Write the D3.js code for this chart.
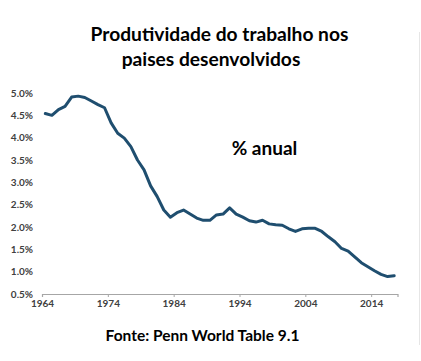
<!DOCTYPE html>
<html>
<head>
<meta charset="utf-8">
<script src="https://cdn.jsdelivr.net/npm/d3@7"></script>
<style>
  body { margin: 0; background: #ffffff; }
  svg { display: block; }
</style>
</head>
<body>
<div id="chart"></div>
<script>
// Chart data
const years = [1964, 1965, 1966, 1967, 1968, 1969, 1970, 1971, 1972, 1973,
    1974, 1975, 1976, 1977, 1978, 1979, 1980, 1981, 1982, 1983,
    1984, 1985, 1986, 1987, 1988, 1989, 1990, 1991, 1992, 1993,
    1994, 1995, 1996, 1997, 1998, 1999, 2000, 2001, 2002, 2003,
    2004, 2005, 2006, 2007, 2008, 2009, 2010, 2011, 2012, 2013,
    2014, 2015, 2016, 2017];
const growth = [4.54, 4.50, 4.63, 4.70, 4.91, 4.93, 4.90, 4.82, 4.74, 4.67,
    4.33, 4.10, 3.99, 3.80, 3.50, 3.28, 2.92, 2.68, 2.38, 2.22,
    2.32, 2.38, 2.29, 2.20, 2.15, 2.15, 2.27, 2.29, 2.43, 2.29,
    2.22, 2.14, 2.11, 2.15, 2.07, 2.05, 2.04, 1.96, 1.90, 1.96,
    1.97, 1.97, 1.90, 1.78, 1.67, 1.52, 1.46, 1.33, 1.20, 1.11,
    1.02, 0.94, 0.89, 0.91];
const xTicks = [1964, 1974, 1984, 1994, 2004, 2014];
const yTicks = [0.5, 1.0, 1.5, 2.0, 2.5, 3.0, 3.5, 4.0, 4.5, 5.0];

const titleLines = ["Produtividade do trabalho nos", "paises desenvolvidos"];
const unitLabel = "% anual";
const sourceLabel = "Fonte: Penn World Table 9.1";

const width = 421;
const height = 361;

const svg = d3.select("#chart").append("svg")
    .attr("width", width)
    .attr("height", height);

// Scales: points sit half a year after their tick
const x = d3.scaleLinear().domain([1964, 2018]).range([42, 397.5]);
const y = d3.scaleLinear().domain([0.5, 5.0]).range([294, 93]);

// x axis: gray baseline with small ticks below
const xAxis = d3.axisBottom(x)
    .tickValues(xTicks)
    .tickFormat(d3.format("d"))
    .tickSize(3)
    .tickPadding(3);

const gx = svg.append("g")
    .attr("transform", "translate(0," + y(0.5) + ")")
    .call(xAxis);
gx.select(".domain").attr("stroke", "#a6a6a6").attr("stroke-width", 1.2);
gx.selectAll(".tick line").attr("stroke", "#a6a6a6");
gx.selectAll(".tick text")
    .attr("fill", "#404040")
    .attr("font-family", "Lato, 'Open Sans', sans-serif")
    .attr("font-size", 10)
    .attr("font-weight", "bold");

// y axis: labels only
const yAxis = d3.axisLeft(y)
    .tickValues(yTicks)
    .tickFormat(function (d) { return d.toFixed(1) + "%"; })
    .tickSize(0)
    .tickPadding(0);

const gy = svg.append("g")
    .attr("transform", "translate(33,0)")
    .call(yAxis);
gy.select(".domain").remove();
gy.selectAll(".tick text")
    .attr("fill", "#404040")
    .attr("font-family", "Lato, 'Open Sans', sans-serif")
    .attr("font-size", 10)
    .attr("font-weight", "bold");

// The productivity line
const line = d3.line()
    .x(function (d, i) { return x(years[i] + 0.5); })
    .y(function (d) { return y(d); });

svg.append("path")
    .datum(growth)
    .attr("fill", "none")
    .attr("stroke", "#1f4e6f")
    .attr("stroke-width", 3)
    .attr("stroke-linejoin", "round")
    .attr("stroke-linecap", "round")
    .attr("d", line);

// Titles and notes
const textFont = "Lato, 'Open Sans', sans-serif";

svg.append("text")
    .attr("x", 219.5).attr("y", 41)
    .attr("text-anchor", "middle")
    .attr("font-family", textFont)
    .attr("font-weight", "bold")
    .attr("font-size", 19.2)
    .attr("fill", "#000")
    .text(titleLines[0]);

svg.append("text")
    .attr("x", 211).attr("y", 66)
    .attr("text-anchor", "middle")
    .attr("font-family", textFont)
    .attr("font-weight", "bold")
    .attr("font-size", 19.2)
    .attr("fill", "#000")
    .text(titleLines[1]);

svg.append("text")
    .attr("x", 264.5).attr("y", 155)
    .attr("text-anchor", "middle")
    .attr("font-family", textFont)
    .attr("font-weight", "bold")
    .attr("font-size", 19)
    .attr("fill", "#000")
    .text(unitLabel);

svg.append("text")
    .attr("x", 202.5).attr("y", 341)
    .attr("text-anchor", "middle")
    .attr("font-family", textFont)
    .attr("font-weight", "bold")
    .attr("font-size", 15.5)
    .attr("fill", "#000")
    .text(sourceLabel);

// Faint frame edge on the right
svg.append("line")
    .attr("x1", 419.5).attr("x2", 419.5)
    .attr("y1", 32).attr("y2", 345)
    .attr("stroke", "#e6e6e6")
    .attr("stroke-width", 1);
</script>
</body>
</html>
